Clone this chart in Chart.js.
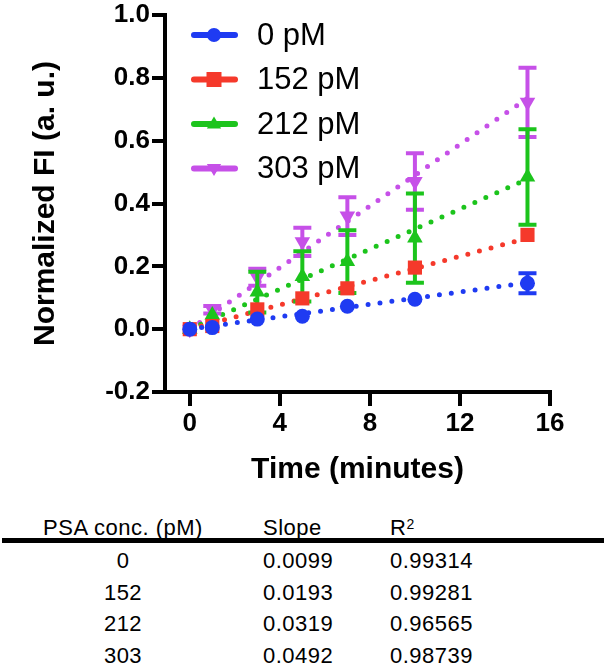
<!DOCTYPE html>
<html>
<head>
<meta charset="utf-8">
<script src="https://cdn.jsdelivr.net/npm/chart.js@4"></script>
<style>
  body { margin: 0; background: #fff; }
  #wrap { position: relative; width: 604px; height: 667px; overflow: hidden; }
  #chart { position: absolute; left: 0; top: 0; }
  .cell { position: absolute; font-family: Arial, "Liberation Sans", sans-serif; font-size: 22px; line-height: 22px; color: #000; white-space: nowrap; letter-spacing: 0.5px; }
  .c1 { width: 166px; left: 40px; text-align: center; }
  .c2 { left: 263px; }
  .c3 { left: 390px; }
  #rule { position: absolute; left: 2px; top: 538px; width: 602px; height: 5px; background: #000; }
  sup { font-size: 14px; position: relative; top: -4px; vertical-align: top; }
</style>
</head>
<body>
<div id="wrap">
  <canvas id="chart" width="604" height="500"></canvas>
  <div id="table"></div>
</div>
<script>
// time points (minutes)
const times = [0, 1, 3, 5, 7, 10, 15];
const seriesLabels = ['0 pM', '152 pM', '212 pM', '303 pM'];
const colors = ['#1f3bf2', '#f5392b', '#1cc41c', '#c650e8'];

// normalized FI
const fi0 = [0, 0.005, 0.032, 0.041, 0.073, 0.095, 0.146];
const err0 = [0, 0, 0, 0, 0, 0, 0.032];
const fi152 = [0, 0.01, 0.063, 0.098, 0.13, 0.196, 0.30];
const err152 = [0, 0, 0, 0, 0, 0, 0];
const fi212 = [0, 0.045, 0.118, 0.168, 0.215, 0.29, 0.484];
const err212 = [0, 0, 0.065, 0.08, 0.1, 0.142, 0.152];
const fi303 = [0, 0.062, 0.165, 0.278, 0.36, 0.47, 0.722];
const err303 = [0, 0.012, 0.027, 0.045, 0.06, 0.09, 0.11];

// dotted linear fits: value at t=0 and t=15
const fitStart = [0, 0, 0, 0];
const fitEnd = [0.148, 0.29, 0.478, 0.735];

// table below the chart
const concs = ['0', '152', '212', '303'];
const slopes = ['0.0099', '0.0193', '0.0319', '0.0492'];
const rSquared = ['0.99314', '0.99281', '0.96565', '0.98739'];

const allFi = [fi0, fi152, fi212, fi303];
const allErr = [err0, err152, err212, err303];
const styles = [
    { pointStyle: 'circle', radius: 7.5, rotation: 0 },
    { pointStyle: 'rect', radius: 10, rotation: 0 },
    { pointStyle: 'triangle', radius: 9, rotation: 0 },
    { pointStyle: 'triangle', radius: 9, rotation: 180 }
];

const datasets = [];
for (let i = 0; i < 4; i++) {
    datasets.push({
        label: seriesLabels[i],
        data: times.map((t, j) => ({ x: t, y: allFi[i][j] })),
        errors: allErr[i],
        backgroundColor: colors[i],
        borderColor: colors[i],
        borderWidth: 0,
        pointStyle: styles[i].pointStyle,
        pointRadius: styles[i].radius,
        pointRotation: styles[i].rotation
    });
}
for (let i = 0; i < 4; i++) {
    datasets.push({
        label: 'fit ' + seriesLabels[i],
        data: [{ x: times[0], y: fitStart[i] }, { x: times[times.length - 1], y: fitEnd[i] }],
        showLine: true,
        pointRadius: 0,
        borderColor: colors[i],
        borderWidth: 5,
        borderDash: [0, 12],
        borderCapStyle: 'round'
    });
}

// error bars under each series' own markers
const errorBars = {
    id: 'errorBars',
    beforeDatasetDraw(chart, args) {
        const ds = chart.data.datasets[args.index];
        if (!ds.errors) return;
        const xs = chart.scales.x, ys = chart.scales.y, ctx = chart.ctx;
        ctx.save();
        ctx.strokeStyle = ds.borderColor;
        ctx.lineWidth = 4;
        ds.data.forEach((p, j) => {
            const e = ds.errors[j];
            if (!e) return;
            const px = xs.getPixelForValue(p.x);
            const top = ys.getPixelForValue(p.y + e);
            const bot = ys.getPixelForValue(p.y - e);
            ctx.beginPath();
            ctx.moveTo(px, top); ctx.lineTo(px, bot);
            ctx.moveTo(px - 9, top); ctx.lineTo(px + 9, top);
            ctx.moveTo(px - 9, bot); ctx.lineTo(px + 9, bot);
            ctx.stroke();
        });
        ctx.restore();
    }
};

function drawMarker(ctx, style, x, y, r) {
    ctx.beginPath();
    if (style === 'circle') {
        ctx.arc(x, y, r, 0, Math.PI * 2);
    } else if (style === 'rect') {
        ctx.rect(x - r, y - r, 2 * r, 2 * r);
    } else if (style === 'up') {
        ctx.moveTo(x, y - r); ctx.lineTo(x + r * 0.95, y + r * 0.6); ctx.lineTo(x - r * 0.95, y + r * 0.6);
    } else {
        ctx.moveTo(x, y + r); ctx.lineTo(x + r * 0.95, y - r * 0.6); ctx.lineTo(x - r * 0.95, y - r * 0.6);
    }
    ctx.closePath();
    ctx.fill();
}

// legend drawn inside the plot, line + marker like the original
const insideLegend = {
    id: 'insideLegend',
    afterDraw(chart) {
        const ctx = chart.ctx;
        const shapes = ['circle', 'rect', 'up', 'down'];
        const sizes = [7, 7.5, 7.5, 7.5];
        ctx.save();
        for (let i = 0; i < 4; i++) {
            const y = 35 + i * 44.5;
            ctx.strokeStyle = colors[i];
            ctx.fillStyle = colors[i];
            ctx.lineWidth = 6;
            ctx.lineCap = 'round';
            ctx.beginPath();
            ctx.moveTo(194, y); ctx.lineTo(235, y);
            ctx.stroke();
            drawMarker(ctx, shapes[i], 214, y, sizes[i]);
            ctx.fillStyle = '#000';
            ctx.font = '31px Arial, "Liberation Sans", sans-serif';
            ctx.textBaseline = 'middle';
            ctx.fillText(seriesLabels[i], 257, y + 1);
        }
        ctx.restore();
    }
};

const tickFont = { family: 'Arial, "Liberation Sans", sans-serif', size: 26, weight: 'bold', lineHeight: 1 };
const titleFont = { family: 'Arial, "Liberation Sans", sans-serif', size: 30, weight: 'bold' };

new Chart(document.getElementById('chart').getContext('2d'), {
    type: 'scatter',
    data: { datasets: datasets },
    options: {
        responsive: false,
        animation: false,
        events: [],
        layout: { padding: { left: 0, right: 54, top: 13, bottom: 0 } },
        plugins: { legend: { display: false }, tooltip: { enabled: false } },
        scales: {
            x: {
                type: 'linear',
                min: -1.1,
                max: 16,
                ticks: { stepSize: 4, includeBounds: false, font: tickFont, color: '#000', padding: 5, maxRotation: 0 },
                grid: { drawOnChartArea: false, tickLength: 14, lineWidth: 4, color: '#000' },
                border: { width: 4, color: '#000' },
                title: { display: true, text: 'Time (minutes)', font: titleFont, color: '#000', padding: { top: 0, bottom: 12 } },
                afterFit: function (s) { s.height = 108; }
            },
            y: {
                type: 'linear',
                min: -0.2,
                max: 1.0,
                ticks: {
                    stepSize: 0.2, font: tickFont, color: '#000', padding: 2,
                    callback: v => (Math.abs(v) < 1e-9 ? 0 : v).toFixed(1)
                },
                grid: { drawOnChartArea: false, tickLength: 13, lineWidth: 4, color: '#000' },
                border: { width: 4, color: '#000' },
                title: { display: true, text: 'Normalized FI (a. u.)', font: titleFont, color: '#000', padding: { top: 28, bottom: 0 } },
                afterFit: function (s) { s.width = 165; }
            }
        }
    },
    plugins: [errorBars, insideLegend]
});

// table
const table = document.getElementById('table');
let html = '<div class="cell c1" style="top:517px">PSA conc. (pM)</div>' +
    '<div class="cell c2" style="top:517px">Slope</div>' +
    '<div class="cell c3" style="top:517px">R<sup>2</sup></div>' +
    '<div id="rule"></div>';
for (let i = 0; i < concs.length; i++) {
    const top = 550 + i * 31.7;
    html += '<div class="cell c1" style="top:' + top + 'px">' + concs[i] + '</div>';
    html += '<div class="cell c2" style="top:' + top + 'px">' + slopes[i] + '</div>';
    html += '<div class="cell c3" style="top:' + top + 'px">' + rSquared[i] + '</div>';
}
table.innerHTML = html;
</script>
</body>
</html>
